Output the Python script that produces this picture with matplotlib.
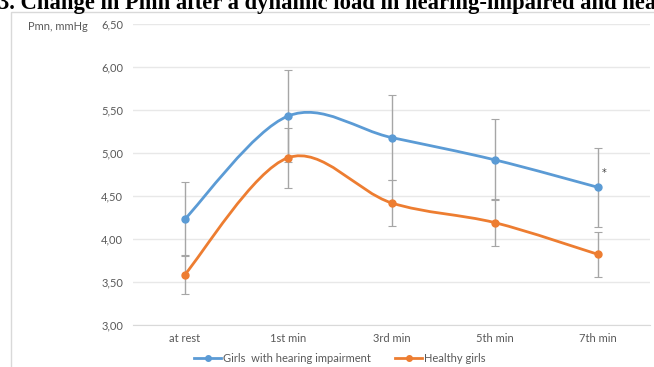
import matplotlib.pyplot as plt
import numpy as np
from matplotlib.path import Path
from matplotlib.patches import PathPatch, Rectangle

# Pmn after a dynamic load, mean ± SD
stages = ["at rest", "1st min", "3rd min", "5th min", "7th min"]
impaired = [4.23, 5.43, 5.18, 4.92, 4.60]
impaired_err = [0.43, 0.54, 0.49, 0.47, 0.46]
healthy = [3.585, 4.945, 4.42, 4.19, 3.82]
healthy_err = [0.23, 0.35, 0.27, 0.27, 0.26]
series_names = ["Girls  with hearing impairment", "Healthy girls"]
yticks = [3.0, 3.5, 4.0, 4.5, 5.0, 5.5, 6.0, 6.5]

BLUE = "#5b9bd5"
ORANGE = "#ed7d31"
FONT = "Lato"
LABEL_SIZE = 8


def smooth_path(ax, xs, ys):
    # Catmull-Rom style bezier through the points, built in pixel space
    pts = ax.transData.transform(np.column_stack([xs, ys]))
    n = len(pts)
    verts = [pts[0]]
    codes = [Path.MOVETO]
    for i in range(n - 1):
        p0 = pts[max(i - 1, 0)]
        p1 = pts[i]
        p2 = pts[i + 1]
        p3 = pts[min(i + 2, n - 1)]
        c1 = p1 + (p2 - p0) / 6
        c2 = p2 - (p3 - p1) / 6
        verts += [c1, c2, p2]
        codes += [Path.CURVE4] * 3
    verts = ax.transData.inverted().transform(np.array(verts))
    return Path(verts, codes)


def main():
    fig = plt.figure(figsize=(6.54, 3.67), dpi=100)
    ax = fig.add_axes([133 / 654, 1 - 325 / 367, 517 / 654, 301 / 367])

    x = np.arange(len(stages))
    ax.set_xlim(-0.5, len(stages) - 0.5)
    ax.set_ylim(3.0, 6.5)

    for vals, errs, color in [(impaired, impaired_err, BLUE),
                              (healthy, healthy_err, ORANGE)]:
        ax.errorbar(x, vals, yerr=errs, fmt="none", ecolor="#a6a6a6",
                    elinewidth=1.0, capsize=3, capthick=0.8, zorder=2)
        ax.add_patch(PathPatch(smooth_path(ax, x, vals), fill=False,
                               edgecolor=color, lw=2.0, zorder=3))
        ax.plot(x, vals, "o", color=color, ms=5, zorder=4)

    ax.text(4.06, 4.77, "*", fontsize=7, color="#404040", ha="center",
            va="center")

    ax.set_yticks(yticks)
    ax.set_yticklabels([f"{v:.2f}".replace(".", ",") for v in yticks])
    ax.set_xticks(x)
    ax.set_xticklabels(stages)
    ax.tick_params(length=0, labelsize=LABEL_SIZE, labelcolor="#595959",
                   pad=6)
    ax.tick_params(axis="y", pad=7)
    for lab in ax.get_xticklabels() + ax.get_yticklabels():
        lab.set_fontfamily(FONT)
    ax.grid(axis="y", color="#e8e8e8", lw=1)
    ax.set_axisbelow(True)
    for side in ["top", "right", "left"]:
        ax.spines[side].set_visible(False)
    ax.spines["bottom"].set_color("#d9d9d9")

    fig.text(28 / 654, 1 - 27 / 367, "Pmn, mmHg", fontsize=LABEL_SIZE,
             color="#595959", family=FONT, va="center")

    handles = [
        plt.Line2D([], [], color=BLUE, lw=2, marker="o", ms=4),
        plt.Line2D([], [], color=ORANGE, lw=2, marker="o", ms=4),
    ]
    leg = fig.legend(handles, series_names, loc="center",
                     bbox_to_anchor=(340 / 654, 1 - 358 / 367), ncol=2,
                     frameon=False, handlelength=2.4,
                     handletextpad=0.2, columnspacing=2.2,
                     prop={"family": FONT, "size": LABEL_SIZE})
    for t in leg.get_texts():
        t.set_color("#595959")

    # chart frame
    fig.add_artist(Rectangle((11 / 654, -0.1), 1.0, 1 - 12 / 367 + 0.1,
                             transform=fig.transFigure, fill=False,
                             edgecolor="#d9d9d9", lw=1))

    fig.text(-2 / 654, 1 - 9 / 367,
             "3. Change in Pmn after a dynamic load in hearing-impaired "
             "and healthy girls",
             fontsize=16.3, fontweight="bold", family="Liberation Serif",
             va="baseline", ha="left")

    fig.savefig("out.png", dpi=100)


if __name__ == "__main__":
    main()
